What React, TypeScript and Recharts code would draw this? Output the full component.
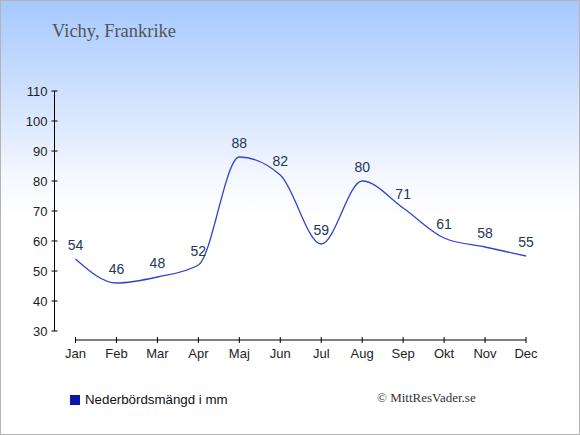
import React from 'react';
import { LineChart, Line, XAxis, YAxis, LabelList, ReferenceLine } from 'recharts';

const months = ['Jan', 'Feb', 'Mar', 'Apr', 'Maj', 'Jun', 'Jul', 'Aug', 'Sep', 'Okt', 'Nov', 'Dec'];
const rainfall = [54, 46, 48, 52, 88, 82, 59, 80, 71, 61, 58, 55];
const yTicks = [30, 40, 50, 60, 70, 80, 90, 100, 110];

const data = months.map((m, i) => ({ month: m, rain: rainfall[i] }));

const axisFont = '"Liberation Sans", Arial, sans-serif';
const serifFont = '"Liberation Serif", "Times New Roman", serif';

// y ticks cross the axis line
const YTick = (props: any) => {
  const { x, y, payload } = props;
  return (
    <g>
      <line x1={x - 3} x2={x + 3} y1={y} y2={y} stroke="#000" />
      <text x={x - 7} y={y + 4.5} textAnchor="end" fontSize={13} fill="#222" fontFamily={axisFont}>
        {payload.value}
      </text>
    </g>
  );
};

// x axis sits 9px below the plot, so draw tick + label ourselves
const XTick = (props: any) => {
  const { x, y, payload } = props;
  return (
    <g>
      <line x1={x} x2={x} y1={y + 6} y2={y + 12} stroke="#000" />
      <text x={x} y={y + 27} textAnchor="middle" fontSize={13} fill="#222" fontFamily={axisFont}>
        {payload.value}
      </text>
    </g>
  );
};

export default function App() {
  return (
    <div
      style={{
        position: 'absolute',
        left: 0,
        top: 0,
        width: 580,
        height: 435,
        boxSizing: 'border-box',
        border: '1px solid #b4b4b4',
        background: 'linear-gradient(to bottom, #a6c8ff 0%, #d6e5fe 25%, #f6f9ff 42%, #ffffff 50%, #ffffff 100%)',
        overflow: 'hidden',
      }}
    >
      <div
        style={{
          position: 'absolute',
          left: 51,
          top: 20,
          fontFamily: serifFont,
          fontSize: 18.5,
          color: '#555',
        }}
      >
        Vichy, Frankrike
      </div>

      <div style={{ position: 'absolute', left: -1, top: -1 }}>
        <LineChart width={580} height={435} data={data} margin={{ top: 91, right: 34, bottom: 64, left: 0 }}>
          <XAxis
            dataKey="month"
            axisLine={false}
            tickLine={false}
            tickSize={0}
            tickMargin={0}
            padding={{ left: 21, right: 20 }}
            tick={<XTick />}
            interval={0}
            height={40}
          />
          <YAxis
            domain={[30, 110]}
            ticks={yTicks}
            interval={0}
            width={54.5}
            tickLine={false}
            tickSize={0}
            tickMargin={0}
            axisLine={{ stroke: '#000' }}
            tick={<YTick />}
            allowDataOverflow
          />
          <ReferenceLine
            segment={[{ x: 'Jan', y: 27 }, { x: 'Dec', y: 27 }]}
            stroke="#000"
            ifOverflow="visible"
          />
          <Line
            type="monotone"
            dataKey="rain"
            name="Nederbördsmängd i mm"
            stroke="#3344cc"
            strokeWidth={1.3}
            dot={false}
            isAnimationActive={false}
          >
            <LabelList dataKey="rain" position="top" offset={9} fontSize={14} fill="#243556" fontFamily={axisFont} />
          </Line>
        </LineChart>
      </div>

      <div
        style={{
          position: 'absolute',
          left: 69,
          top: 391,
          display: 'flex',
          alignItems: 'center',
          fontFamily: axisFont,
          fontSize: 13.3,
          color: '#111',
        }}
      >
        <span style={{ display: 'inline-block', width: 10, height: 10, background: '#0a16aa', marginRight: 5 }} />
        Nederbördsmängd i mm
      </div>

      <div
        style={{
          position: 'absolute',
          left: 376,
          top: 389,
          fontFamily: serifFont,
          fontSize: 13,
          color: '#333',
        }}
      >
        © MittResVader.se
      </div>
    </div>
  );
}
